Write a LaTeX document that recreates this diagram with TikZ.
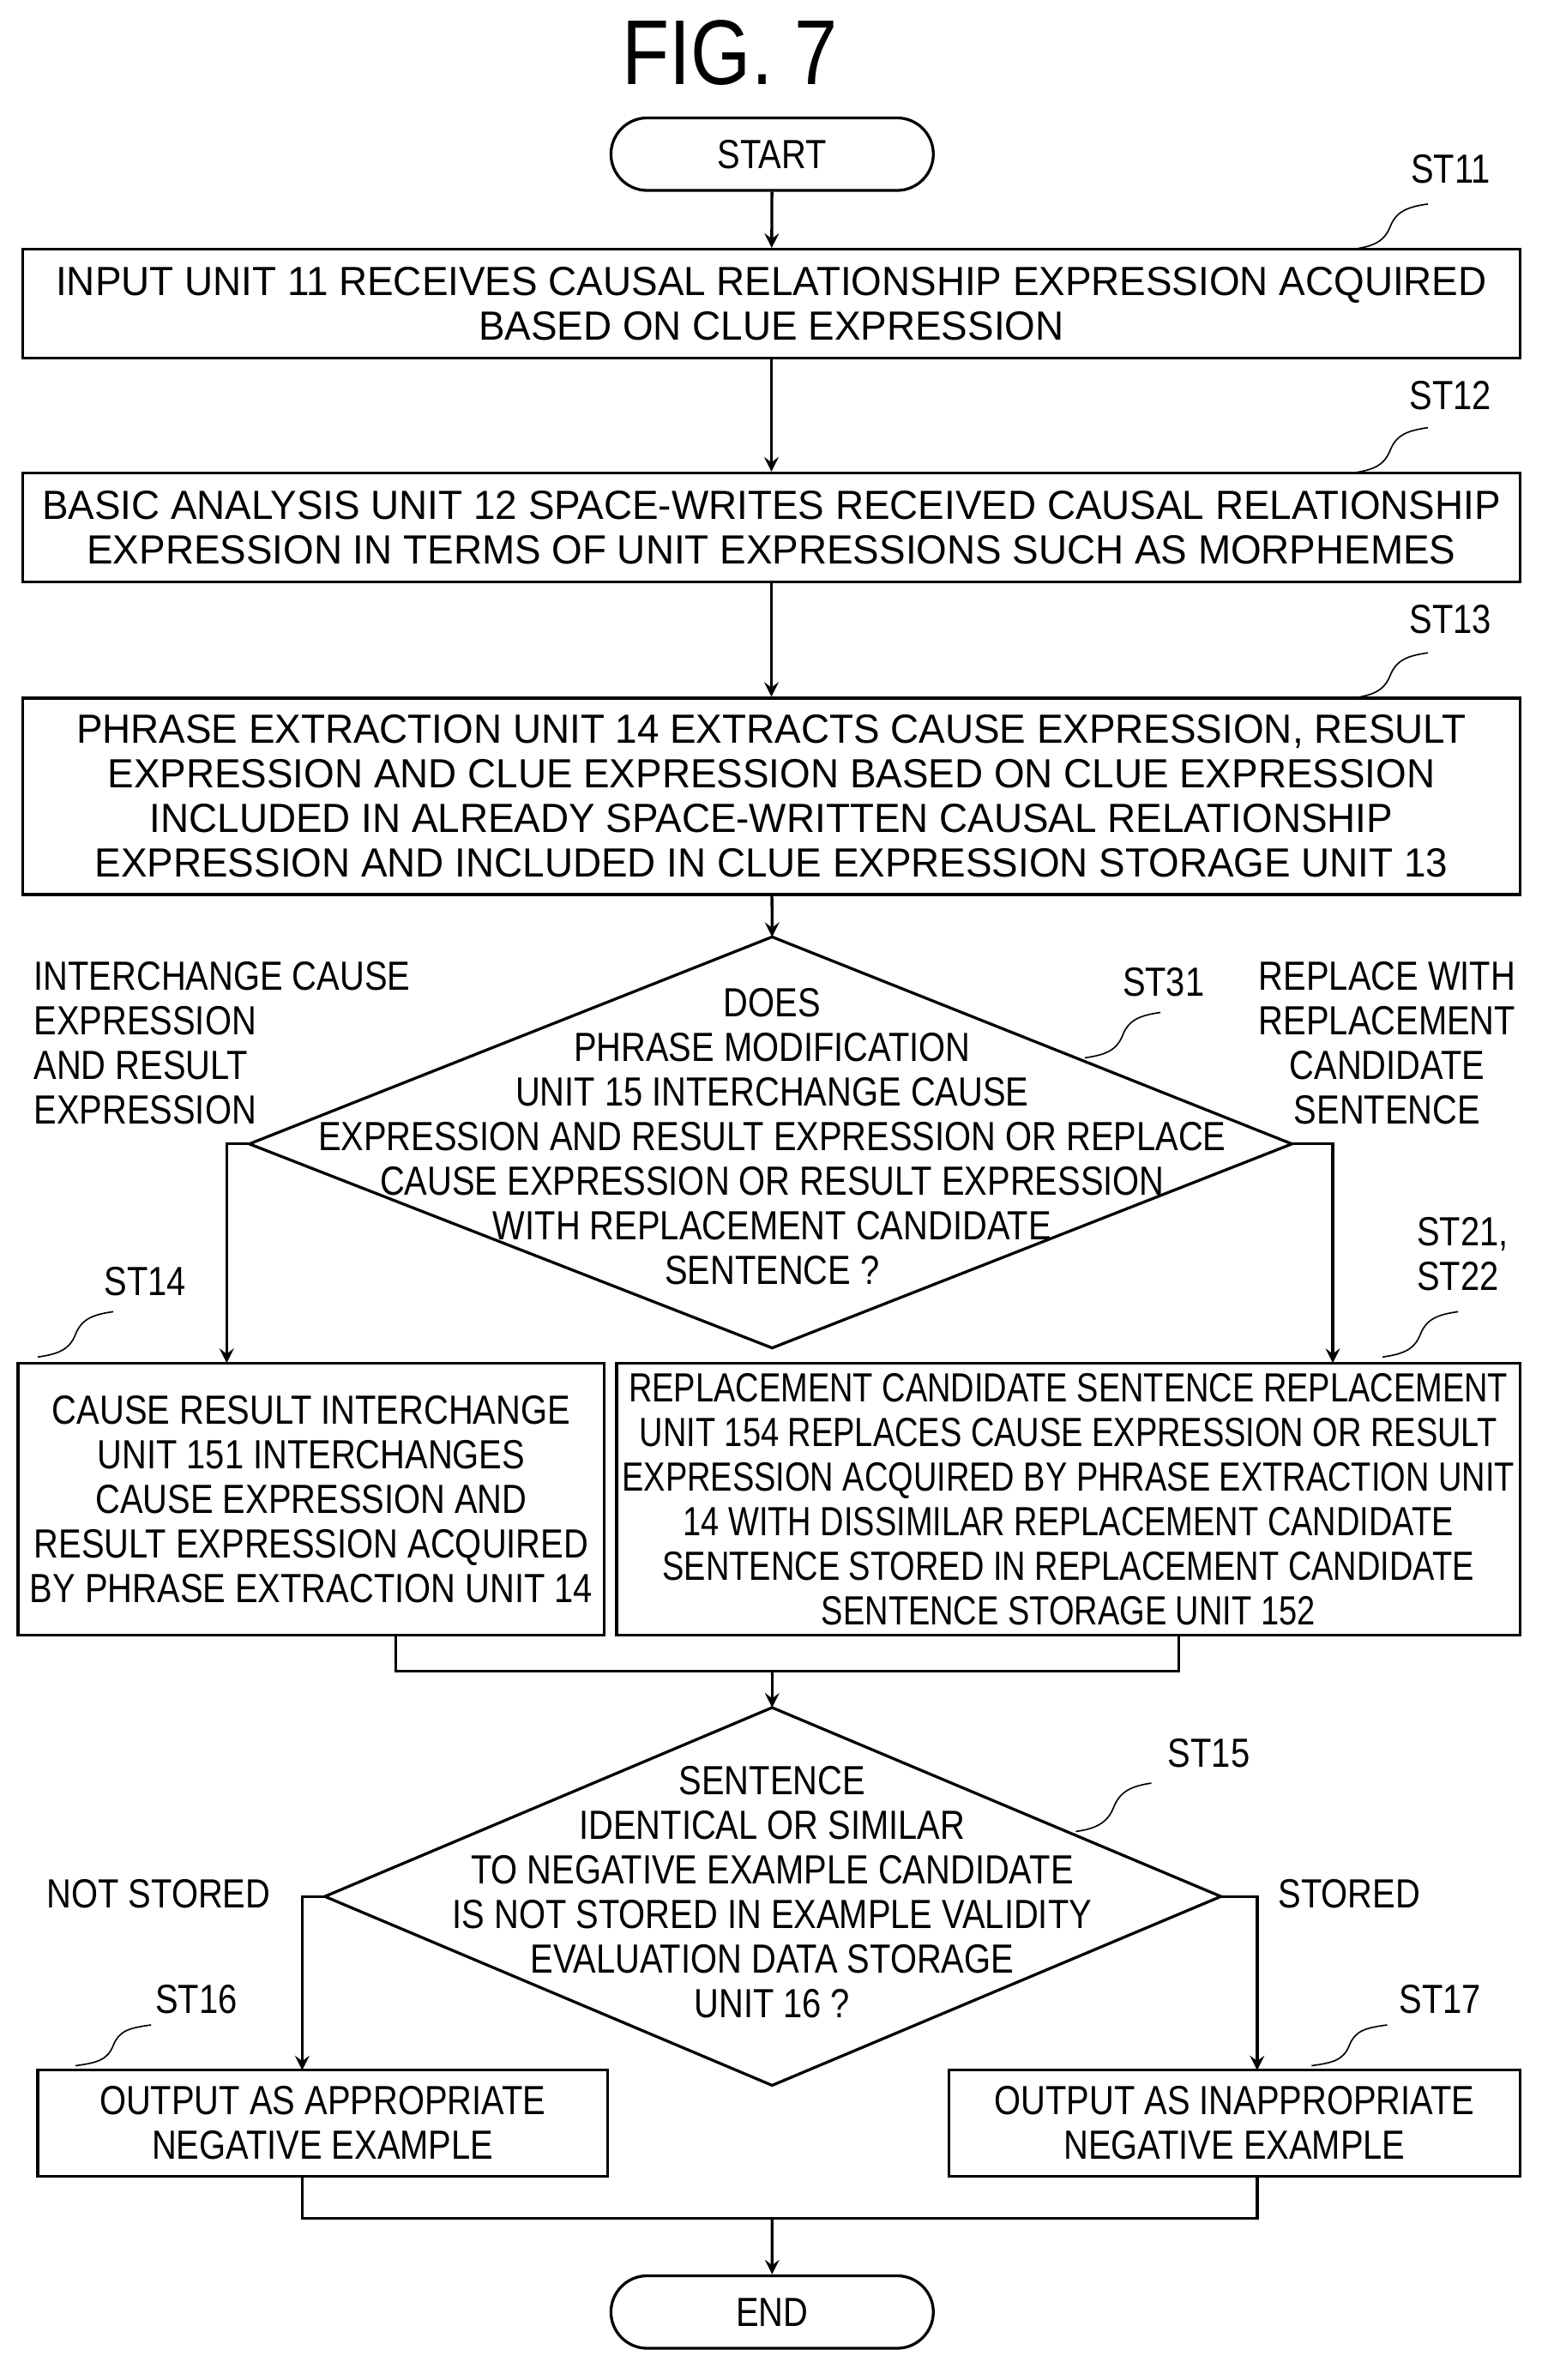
\documentclass[tikz,border=0pt]{standalone}
\usepackage{fontspec}
\setmainfont{Liberation Sans}[FakeStretch=0.84]
\newfontfamily\widefont{Liberation Sans}[FakeStretch=0.965]
\newfontfamily\tightfont{Liberation Sans}[FakeStretch=0.8]
\usetikzlibrary{shapes.geometric,shapes.misc,positioning,calc}
\tikzset{every node/.style={inner sep=0pt,font=\fontsize{11.5}{12.6}\selectfont}}
\tikzset{box/.style = {draw,thick,rectangle,align=center}}
\tikzset{wide/.style = {font=\fontsize{11.5}{12.6}\widefont}}
\tikzset{tight/.style = {font=\fontsize{11.5}{12.6}\tightfont}}
\tikzset{term/.style = {draw,thick,rounded rectangle,minimum width=3.2cm,minimum height=0.72cm}}
\tikzset{lbl/.style = {align=center}}
\tikzset{flow/.style = {thick,->,>=stealth}}
\tikzset{line/.style = {thick}}
\tikzset{sq/.style = {thin}}
\newcommand{\squig}[2]{\draw[sq] (#1) .. controls +(14,-2) and +(-4,10) .. ($(#1)!0.5!(#2)$) .. controls +(4,-10) and +(-14,2) .. (#2);}

\begin{document}
\begin{tikzpicture}[x=0.015cm,y=-0.015cm]
      \useasboundingbox (0,0) rectangle (1024,1575);
      \node[font=\fontsize{26}{30}\selectfont] (title) at (483,35) {FIG. 7};
      \node[term] (start) at (511,102) {START};

      \node[box,wide,minimum width=991*0.015cm,minimum height=72*0.015cm] (b11) at (510.5,201)
        {INPUT UNIT 11 RECEIVES CAUSAL RELATIONSHIP EXPRESSION ACQUIRED\\BASED ON CLUE EXPRESSION};
      \node[box,wide,minimum width=991*0.015cm,minimum height=72*0.015cm] (b12) at (510.5,349)
        {BASIC ANALYSIS UNIT 12 SPACE-WRITES RECEIVED CAUSAL RELATIONSHIP\\EXPRESSION IN TERMS OF UNIT EXPRESSIONS SUCH AS MORPHEMES};
      \node[box,wide,minimum width=991*0.015cm,minimum height=130*0.015cm] (b13) at (510.5,527)
        {PHRASE EXTRACTION UNIT 14 EXTRACTS CAUSE EXPRESSION, RESULT\\EXPRESSION AND CLUE EXPRESSION BASED ON CLUE EXPRESSION\\INCLUDED IN ALREADY SPACE-WRITTEN CAUSAL RELATIONSHIP\\EXPRESSION AND INCLUDED IN CLUE EXPRESSION STORAGE UNIT 13};

      % decision ST31
      \coordinate (d1t) at (511,620);
      \coordinate (d1b) at (511,892);
      \coordinate (d1l) at (165,757);
      \coordinate (d1r) at (855,757);
      \draw[line] (d1t) -- (d1r) -- (d1b) -- (d1l) -- cycle;
      \node[lbl] (q31) at (511,752) {DOES\\PHRASE MODIFICATION\\UNIT 15 INTERCHANGE CAUSE\\EXPRESSION AND RESULT EXPRESSION OR REPLACE\\CAUSE EXPRESSION OR RESULT EXPRESSION\\WITH REPLACEMENT CANDIDATE\\SENTENCE ?};
      \node[align=left,anchor=west] (lx) at (22,690) {INTERCHANGE CAUSE\\EXPRESSION\\AND RESULT\\EXPRESSION};
      \node[lbl] (rx) at (918,690) {REPLACE WITH\\REPLACEMENT\\CANDIDATE\\SENTENCE};

      \node[box,minimum width=388*0.015cm,minimum height=180*0.015cm] (b14) at (206,992)
        {CAUSE RESULT INTERCHANGE\\UNIT 151 INTERCHANGES\\CAUSE EXPRESSION AND\\RESULT EXPRESSION ACQUIRED\\BY PHRASE EXTRACTION UNIT 14};
      \node[box,tight,minimum width=598*0.015cm,minimum height=180*0.015cm] (b21) at (707,992)
        {REPLACEMENT CANDIDATE SENTENCE REPLACEMENT\\UNIT 154 REPLACES CAUSE EXPRESSION OR RESULT\\EXPRESSION ACQUIRED BY PHRASE EXTRACTION UNIT\\14 WITH DISSIMILAR REPLACEMENT CANDIDATE\\SENTENCE STORED IN REPLACEMENT CANDIDATE\\SENTENCE STORAGE UNIT 152};

      % decision ST15
      \coordinate (d2t) at (511,1130);
      \coordinate (d2b) at (511,1380);
      \coordinate (d2l) at (215,1255);
      \coordinate (d2r) at (808,1255);
      \draw[line] (d2t) -- (d2r) -- (d2b) -- (d2l) -- cycle;
      \node[lbl] (q15) at (511,1252) {SENTENCE\\IDENTICAL OR SIMILAR\\TO NEGATIVE EXAMPLE CANDIDATE\\IS NOT STORED IN EXAMPLE VALIDITY\\EVALUATION DATA STORAGE\\UNIT 16 ?};
      \node (ns) at (105,1253) {NOT STORED};
      \node (st) at (893,1253) {STORED};

      \node[box,minimum width=377*0.015cm,minimum height=70*0.015cm] (b16) at (213.5,1405)
        {OUTPUT AS APPROPRIATE\\NEGATIVE EXAMPLE};
      \node[box,minimum width=378*0.015cm,minimum height=70*0.015cm] (b17) at (817,1405)
        {OUTPUT AS INAPPROPRIATE\\NEGATIVE EXAMPLE};
      \node[term] (end) at (511,1530) {END};

      % step labels
      \node (s11) at (960,112) {ST11};
      \node (s12) at (960,262) {ST12};
      \node (s13) at (960,410) {ST13};
      \node (s31) at (770,650) {ST31};
      \node (s14) at (96,848) {ST14};
      \node[align=left] (s21) at (968,830) {ST21,\\ST22};
      \node (s15) at (800,1160) {ST15};
      \node (s16) at (130,1323) {ST16};
      \node (s17) at (953,1323) {ST17};
      \coordinate (q11a) at (895,165); \coordinate (q11b) at (945,135);
      \coordinate (q12a) at (895,313); \coordinate (q12b) at (945,283);
      \coordinate (q13a) at (895,462); \coordinate (q13b) at (945,432);
      \coordinate (q31a) at (718,700); \coordinate (q31b) at (768,670);
      \coordinate (q14a) at (25,898);  \coordinate (q14b) at (75,868);
      \coordinate (q21a) at (915,898); \coordinate (q21b) at (965,868);
      \coordinate (q15a) at (712,1212); \coordinate (q15b) at (762,1180);
      \coordinate (q16a) at (50,1367); \coordinate (q16b) at (100,1340);
      \coordinate (q17a) at (868,1367); \coordinate (q17b) at (918,1340);
 \foreach \a/\b in {q11a/q11b,q12a/q12b,q13a/q13b,q31a/q31b,q14a/q14b,q21a/q21b,q15a/q15b,q16a/q16b,q17a/q17b}
   {\squig{\a}{\b}}

      % connectors
      \draw[flow] (start) -- (b11);
      \draw[flow] (b11) -- (b12);
      \draw[flow] (b12) -- (b13);
      \draw[flow] (b13) -- (d1t);
      \draw[flow] (d1l) -- (150,757) -- (150,902);
      \draw[flow] (d1r) -- (882,757) -- (882,902);
      \coordinate (m1) at (511,1106);
      \draw[line] (262,1082) -- (262,1106) -- (780,1106) -- (780,1082);
      \draw[flow] (m1) -- (d2t);
      \draw[flow] (d2l) -- (200,1255) -- (200,1370);
      \draw[flow] (d2r) -- (832,1255) -- (832,1370);
      \coordinate (m2) at (511,1468);
      \draw[line] (200,1440) -- (200,1468) -- (832,1468) -- (832,1440);
      \draw[flow] (m2) -- (end);
    \end{tikzpicture}
\end{document}
